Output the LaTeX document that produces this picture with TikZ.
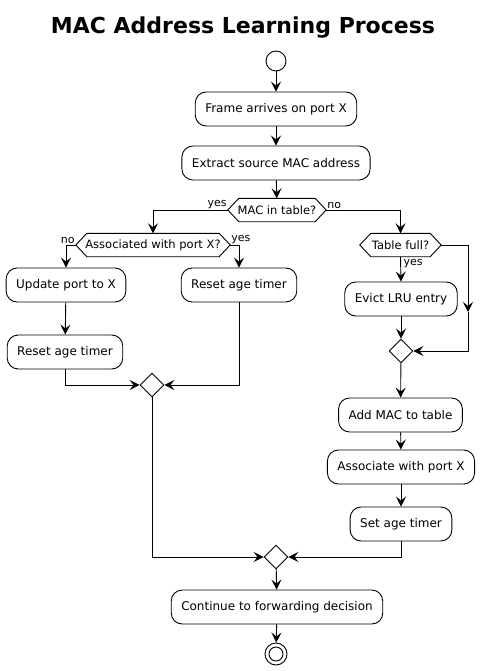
\documentclass[tikz,border=0pt]{standalone}
\usepackage{fontspec}
\setmainfont{DejaVu Sans}
\usetikzlibrary{arrows.meta,shapes.geometric,calc}
\tikzset{
  act/.style={draw,rounded corners=11pt,line width=0.9pt,minimum height=34pt,inner xsep=10pt,font=\fontsize{12}{14}\selectfont},
  hexa/.style={inner xsep=2pt,minimum height=23pt,font=\fontsize{11.5}{13}\selectfont},
  merge/.style={draw,diamond,minimum width=24pt,minimum height=24pt,inner sep=0pt,line width=0.9pt},
  arr/.style={line width=0.9pt,-{Stealth[length=10pt,width=10pt,inset=4pt]}},
  ln/.style={line width=0.9pt},
  lbl/.style={font=\fontsize{11}{13}\selectfont,inner sep=1pt}
}
\newcommand{\hexdraw}[1]{\draw[line width=0.9pt] (#1.west) -- ($(#1.north west)+(11pt,0)$) -- ($(#1.north east)+(-11pt,0)$) -- (#1.east) -- ($(#1.south east)+(-11pt,0)$) -- ($(#1.south west)+(11pt,0)$) -- cycle;}
\begin{document}
\begin{tikzpicture}[x=1pt,y=-1pt]
\useasboundingbox (0,0) rectangle (487,671);
\node[font=\fontsize{22}{26}\selectfont\bfseries] (title) at (243,28) {MAC Address Learning Process};
\node[draw,circle,minimum size=20pt,inner sep=0pt,line width=0.9pt] (start) at (276,61) {};
\node[act] (frame) at (276,109) {Frame arrives on port X};
\node[act] (extract) at (276,163) {Extract source MAC address};
\node[hexa,minimum width=98pt] (mac) at (277,210) {MAC in table?};
\hexdraw{mac}
\node[hexa,minimum width=154pt] (assoc) at (153,245) {Associated with port X?};
\hexdraw{assoc}
\node[hexa,minimum width=81pt] (full) at (400.5,245) {Table full?};
\hexdraw{full}
\node[act] (upd) at (66,285) {Update port to X};
\node[act] (reset1) at (239,285) {Reset age timer};
\node[act] (reset2) at (65,352) {Reset age timer};
\node[merge] (m1) at (152,385) {};
\node[act] (evict) at (401,299) {Evict LRU entry};
\node[merge] (m2) at (401,351) {};
\node[act] (add) at (400.5,415) {Add MAC to table};
\node[act] (assoc2) at (401,467) {Associate with port X};
\node[act] (setage) at (401,524) {Set age timer};
\node[merge] (m3) at (276,557) {};
\node[act] (cont) at (277,607) {Continue to forwarding decision};
\node[draw,circle,minimum size=22pt,inner sep=0pt,line width=0.9pt] (end) at (276,654) {};
\node[draw,circle,fill=white,minimum size=14pt,inner sep=0pt,line width=0.9pt] (endin) at (276,654) {};
\coordinate (c1) at (468,245);
\coordinate (c2) at (468,312);
% edges
\draw[arr] (start) -- (frame);
\draw[arr] (frame) -- (extract);
\draw[arr] (extract) -- (mac);
\draw[arr] (mac.west) -| (assoc.north);
\draw[arr] (mac.east) -| (full.north);
\draw[arr] (assoc.west) -| (upd.north);
\draw[arr] (assoc.east) -| (reset1.north);
\draw[arr] (upd) -- (reset2);
\draw[arr] (reset2.south) |- (m1.west);
\draw[arr] (reset1.south) |- (m1.east);
\draw[arr] (full.south) -- (evict.north);
\draw[arr] (full.east) -- (c1) -- (c2);
\draw[arr] (c2) |- (m2.east);
\draw[arr] (evict) -- (m2);
\draw[arr] (m2) -- (add);
\draw[arr] (add) -- (assoc2);
\draw[arr] (assoc2) -- (setage);
\draw[arr] (m1.south) |- (m3.west);
\draw[arr] (setage.south) |- (m3.east);
\draw[arr] (m3) -- (cont);
\draw[arr] (cont) -- (end);
% labels
\node[lbl,anchor=south east] (l1) at (mac.west) {yes};
\node[lbl,anchor=south west] (l2) at (mac.east) {no};
\node[lbl,anchor=south east] (l3) at (assoc.west) {no};
\node[lbl,anchor=south west] (l4) at (assoc.east) {yes};
\node[lbl,anchor=north west] (l5) at ($(full.south)+(2,1)$) {yes};
\end{tikzpicture}
\end{document}
